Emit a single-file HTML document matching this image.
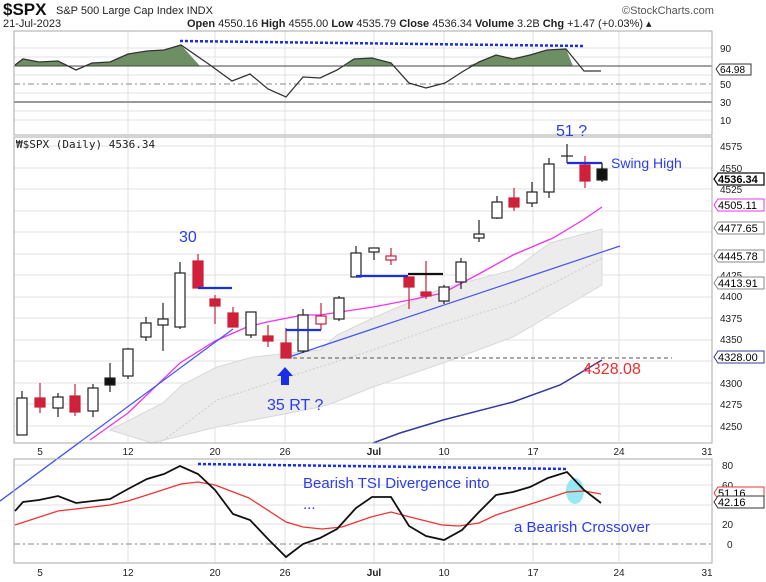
<!DOCTYPE html>
<html><head><meta charset="utf-8"><style>
html,body{margin:0;padding:0;background:#fff}
svg{display:block;font-family:"Liberation Sans",sans-serif}
</style></head><body>
<svg width="766" height="582" viewBox="0 0 766 582" xmlns="http://www.w3.org/2000/svg">
<rect width="766" height="582" fill="#fff"/>
<!-- header -->
<text x="3" y="15" font-size="17" font-weight="bold" fill="#111">$SPX</text>
<text x="56" y="14" font-size="11" fill="#222">S&amp;P 500 Large Cap Index INDX</text>
<text x="3" y="27" font-size="11" fill="#222">21-Jul-2023</text>
<text x="187" y="27" font-size="11" fill="#222"><tspan font-weight="bold">Open</tspan> 4550.16 <tspan font-weight="bold">High</tspan> 4555.00 <tspan font-weight="bold">Low</tspan> 4535.79 <tspan font-weight="bold">Close</tspan> 4536.34 <tspan font-weight="bold">Volume</tspan> 3.2B <tspan font-weight="bold">Chg</tspan> +1.47 (+0.03%) ▴</text>
<text x="622" y="14" font-size="11" fill="#555">©StockCharts.com</text>

<!-- top panel -->
<g stroke="#e2e2e2" stroke-width="1">
<line x1="14" y1="48" x2="712" y2="48"/><line x1="14" y1="57" x2="712" y2="57"/><line x1="14" y1="75" x2="712" y2="75"/><line x1="14" y1="93" x2="712" y2="93"/><line x1="14" y1="111" x2="712" y2="111"/><line x1="14" y1="120" x2="712" y2="120"/>
<line x1="128" y1="31" x2="128" y2="135"/><line x1="215" y1="31" x2="215" y2="135"/><line x1="285" y1="31" x2="285" y2="135"/><line x1="374" y1="31" x2="374" y2="135"/><line x1="444" y1="31" x2="444" y2="135"/><line x1="533" y1="31" x2="533" y2="135"/><line x1="619" y1="31" x2="619" y2="135"/>
</g>
<polygon fill="#6e8f64" stroke="none" points="15,66 15,65 23,59 39,62 58,61 70,66 83,66 92,63 110,62 128,54 147,51 164,50 181,45 200,66"/>
<polygon fill="#6e8f64" stroke="none" points="345,66 354,59 372,58 391,63 394,66"/>
<polygon fill="#6e8f64" stroke="none" points="467,66 479,62 496,55 513,59 530,55 547,50 566,49 573,66"/>
<line x1="14" y1="66" x2="712" y2="66" stroke="#444" stroke-width="1"/>
<line x1="14" y1="84" x2="712" y2="84" stroke="#888" stroke-dasharray="6,3,2,3"/>
<line x1="14" y1="102" x2="712" y2="102" stroke="#999" stroke-width="2"/>
<polyline fill="none" stroke="#333" stroke-width="1.3" points="15,65 23,59 39,62 58,61 76,70 92,63 110,62 128,54 147,51 164,50 181,45 210,65 232,81 250,74 268,89 286,97 303,77 320,78 337,70 354,59 372,58 391,63 409,83 426,88 445,83 462,72 479,62 496,55 513,59 530,55 547,50 566,49 584,71 601,71"/>
<line x1="180" y1="41" x2="584" y2="46" stroke="#1a2ee8" stroke-width="2.5" stroke-dasharray="3,2"/>
<rect x="14" y="31" width="698" height="104" fill="none" stroke="#aaa"/>
<g font-size="10" fill="#222"><text x="720" y="52">90</text><text x="720" y="88">50</text><text x="720" y="106">30</text><text x="720" y="124">10</text></g>
<path d="M716,69 l4,-5 h31 v11 h-31z" fill="#fff" stroke="#333"/><text x="720" y="73" font-size="10">64.98</text>

<!-- main panel grid -->
<g stroke="#e2e2e2">
<line x1="14" y1="146" x2="712" y2="146"/><line x1="14" y1="168" x2="712" y2="168"/><line x1="14" y1="189" x2="712" y2="189"/><line x1="14" y1="211" x2="712" y2="211"/><line x1="14" y1="232" x2="712" y2="232"/><line x1="14" y1="254" x2="712" y2="254"/><line x1="14" y1="275" x2="712" y2="275"/><line x1="14" y1="297" x2="712" y2="297"/><line x1="14" y1="318" x2="712" y2="318"/><line x1="14" y1="340" x2="712" y2="340"/><line x1="14" y1="361" x2="712" y2="361"/><line x1="14" y1="383" x2="712" y2="383"/><line x1="14" y1="404" x2="712" y2="404"/><line x1="14" y1="426" x2="712" y2="426"/>
<line x1="128" y1="137" x2="128" y2="443"/><line x1="215" y1="137" x2="215" y2="443"/><line x1="285" y1="137" x2="285" y2="443"/><line x1="374" y1="137" x2="374" y2="443"/><line x1="444" y1="137" x2="444" y2="443"/><line x1="533" y1="137" x2="533" y2="443"/><line x1="619" y1="137" x2="619" y2="443"/>
</g>
<text x="16" y="148" font-size="11" fill="#222" font-family="'DejaVu Sans Mono',monospace">₩$SPX (Daily) 4536.34</text>
<!-- band -->
<polygon fill="#ececec" stroke="#d8d8d8" points="110,430 163,403 182,385 217,367 253,357 320,350 337,335 373,318 443,288 513,270 550,243 602,229 602,285 513,337 443,363 373,387 333,403 320,407 217,427 152,443"/>
<polyline fill="none" stroke="#ccc" stroke-dasharray="2,2" points="160,443 217,400 285,378 373,350 443,325 513,303 560,280 602,258"/>
<!-- MAs -->
<polyline fill="none" stroke="#ee33ee" stroke-width="1.3" points="90,440 128,413 180,363 215,341 247,327 267,322 303,315 320,315 373,307 410,300 443,293 477,275 513,255 553,238 583,220 602,207"/>
<polyline fill="none" stroke="#333a99" stroke-width="1.5" points="373,443 400,433 443,420 513,402 560,385 602,360"/>
<line x1="0" y1="501" x2="233" y2="329" stroke="#4455ee" stroke-width="1.2"/>
<line x1="286" y1="358" x2="620" y2="246" stroke="#4455ee" stroke-width="1.2"/>
<line x1="286" y1="358" x2="672" y2="358" stroke="#555" stroke-dasharray="4,3"/>
<!-- candles -->
<g stroke="#222" stroke-width="1.2">
<line x1="22" y1="391" x2="22" y2="435"/><rect x="17" y="398" width="10" height="37" fill="#fff"/>
<line x1="58" y1="393" x2="58" y2="417"/><rect x="53" y="397" width="10" height="11" fill="#fff"/>
<line x1="93" y1="384" x2="93" y2="417"/><rect x="88" y="388" width="10" height="23" fill="#fff"/>
<line x1="110" y1="363" x2="110" y2="392"/><rect x="105" y="378" width="10" height="7" fill="#111"/>
<line x1="128" y1="348" x2="128" y2="379"/><rect x="123" y="349" width="10" height="27" fill="#fff"/>
<line x1="146" y1="317" x2="146" y2="341"/><rect x="141" y="323" width="10" height="14" fill="#fff"/>
<line x1="163" y1="303" x2="163" y2="351"/><rect x="158" y="319" width="10" height="6" fill="#fff"/>
<line x1="180" y1="262" x2="180" y2="329"/><rect x="175" y="273" width="10" height="54" fill="#fff"/>
<line x1="251" y1="312" x2="251" y2="338"/><rect x="246" y="312" width="10" height="23" fill="#fff"/>
<line x1="303" y1="309" x2="303" y2="353"/><rect x="298" y="315" width="10" height="36" fill="#fff"/>
<line x1="339" y1="296" x2="339" y2="321"/><rect x="334" y="298" width="10" height="21" fill="#fff"/>
<line x1="356" y1="246" x2="356" y2="277"/><rect x="351" y="253" width="10" height="24" fill="#fff"/>
<line x1="374" y1="248" x2="374" y2="260"/><rect x="369" y="248" width="10" height="4" fill="#fff"/>
<line x1="444" y1="285" x2="444" y2="304"/><rect x="439" y="287" width="10" height="14" fill="#fff"/>
<line x1="461" y1="258" x2="461" y2="289"/><rect x="456" y="262" width="10" height="20" fill="#fff"/>
<line x1="479" y1="220" x2="479" y2="242"/><rect x="474" y="234" width="10" height="4" fill="#fff"/>
<line x1="497" y1="196" x2="497" y2="219"/><rect x="492" y="202" width="10" height="16" fill="#fff"/>
<line x1="532" y1="182" x2="532" y2="207"/><rect x="527" y="192" width="10" height="11" fill="#fff"/>
<line x1="549" y1="158" x2="549" y2="198"/><rect x="544" y="164" width="10" height="28" fill="#fff"/>
<line x1="567" y1="144" x2="567" y2="163"/><line x1="561" y1="156" x2="573" y2="156"/>
<line x1="602" y1="166" x2="602" y2="182"/><rect x="597" y="169" width="10" height="11" fill="#111"/>
</g>
<g stroke="#c8203a" stroke-width="1.2" fill="#d0203a">
<line x1="40" y1="383" x2="40" y2="413"/><rect x="35" y="398" width="10" height="9"/>
<line x1="75" y1="384" x2="75" y2="416"/><rect x="70" y="396" width="10" height="16"/>
<line x1="198" y1="254" x2="198" y2="288"/><rect x="193" y="261" width="10" height="27"/>
<line x1="215" y1="295" x2="215" y2="324"/><rect x="210" y="299" width="10" height="7"/>
<line x1="233" y1="307" x2="233" y2="327"/><rect x="228" y="313" width="10" height="14"/>
<line x1="268" y1="325" x2="268" y2="347"/><rect x="263" y="336" width="10" height="5"/>
<line x1="286" y1="328" x2="286" y2="358"/><rect x="281" y="343" width="10" height="15"/>
<line x1="321" y1="303" x2="321" y2="330"/><rect x="316" y="316" width="10" height="8" fill="#fff"/>
<line x1="391" y1="248" x2="391" y2="265"/><rect x="386" y="256" width="10" height="4" fill="#fff"/>
<line x1="409" y1="277" x2="409" y2="309"/><rect x="404" y="277" width="10" height="10"/>
<line x1="426" y1="261" x2="426" y2="299"/><rect x="421" y="292" width="10" height="4"/>
<line x1="514" y1="188" x2="514" y2="211"/><rect x="509" y="198" width="10" height="9"/>
<line x1="585" y1="156" x2="585" y2="188"/><rect x="580" y="165" width="10" height="16"/>
</g>
<!-- annotation lines -->
<g stroke="#1a2ee8" stroke-width="2.2">
<line x1="198" y1="288" x2="232" y2="288"/><line x1="286" y1="330" x2="321" y2="330"/><line x1="356" y1="276" x2="408" y2="276"/>
<line x1="567" y1="163" x2="602" y2="163"/></g>
<line x1="408" y1="274" x2="443" y2="274" stroke="#111" stroke-width="2.2"/>
<line x1="602" y1="163" x2="602" y2="170" stroke="#111" stroke-width="1.2"/>
<path d="M285,367 l-8,9 h4 v9 h8 v-9 h4z" fill="#1a2ee8"/>
<g fill="#2a3cf0" font-size="16"><text x="179" y="242">30</text><text x="267" y="410">35 RT  ?</text><text x="556" y="136">51 ?</text><text x="611" y="168" font-size="14">Swing High</text></g>
<text x="583" y="374" font-size="16" fill="#ee2b2b">4328.08</text>
<rect x="14" y="137" width="698" height="306" fill="none" stroke="#aaa"/>
<!-- right axis main -->
<g font-size="10" fill="#222"><text x="720" y="150">4575</text><text x="720" y="172">4550</text><text x="720" y="193">4525</text><text x="720" y="279">4425</text><text x="720" y="300">4400</text><text x="720" y="322">4375</text><text x="720" y="343">4350</text><text x="720" y="387">4300</text><text x="720" y="408">4275</text><text x="720" y="430">4250</text></g>
<g font-size="11">
<path d="M714,179 l4,-6 h46 v12 h-46z" fill="#fff" stroke="#111" stroke-width="1.3"/><text x="718" y="183" font-weight="bold">4536.34</text>
<path d="M714,205 l4,-6 h46 v12 h-46z" fill="#fff" stroke="#ee33ee"/><text x="718" y="209">4505.11</text>
<path d="M714,228 l4,-6 h46 v12 h-46z" fill="#fff" stroke="#888"/><text x="718" y="232">4477.65</text>
<path d="M714,256 l4,-6 h46 v12 h-46z" fill="#fff" stroke="#888"/><text x="718" y="260">4445.78</text>
<path d="M714,283 l4,-6 h46 v12 h-46z" fill="#fff" stroke="#888"/><text x="718" y="287">4413.91</text>
<path d="M714,357 l4,-6 h46 v12 h-46z" fill="#fff" stroke="#333a99"/><text x="718" y="361">4328.00</text>
</g>
<!-- date axis -->
<g font-size="10" fill="#222" text-anchor="middle"><text x="40" y="455">5</text><text x="128" y="455">12</text><text x="215" y="455">20</text><text x="285" y="455">26</text><text x="374" y="455" font-weight="bold">Jul</text><text x="444" y="455">10</text><text x="533" y="455">17</text><text x="619" y="455">24</text><text x="707" y="455">31</text></g>
<!-- bottom panel -->
<g stroke="#e2e2e2">
<line x1="14" y1="465" x2="712" y2="465"/><line x1="14" y1="485" x2="712" y2="485"/><line x1="14" y1="505" x2="712" y2="505"/><line x1="14" y1="524" x2="712" y2="524"/>
<line x1="128" y1="459" x2="128" y2="563"/><line x1="215" y1="459" x2="215" y2="563"/><line x1="285" y1="459" x2="285" y2="563"/><line x1="374" y1="459" x2="374" y2="563"/><line x1="444" y1="459" x2="444" y2="563"/><line x1="533" y1="459" x2="533" y2="563"/><line x1="619" y1="459" x2="619" y2="563"/>
</g>
<line x1="14" y1="544" x2="712" y2="544" stroke="#888" stroke-dasharray="6,3,2,3"/>
<ellipse cx="575" cy="491" rx="9" ry="13" fill="#7fe3ef" opacity="0.8"/>
<polyline fill="none" stroke="#ee3333" stroke-width="1.3" points="15,525 58,511 110,505 128,501 147,495 181,484 198,482 215,485 249,498 286,522 303,527 322,529 342,527 371,517 391,512 410,517 442,525 459,526 479,523 496,515 537,502 567,492 584,491 601,494"/>
<polyline fill="none" stroke="#111" stroke-width="1.8" points="15,511 23,502 39,500 58,496 76,503 110,499 128,489 147,479 164,474 180,466 198,474 215,490 233,514 250,520 268,539 286,557 303,544 320,538 337,529 356,508 372,497 391,497 409,526 426,536 444,540 462,530 479,512 496,495 513,492 530,487 548,478 567,472 584,490 601,503"/>
<line x1="198" y1="464" x2="567" y2="469" stroke="#1a2ee8" stroke-width="2.5" stroke-dasharray="3,2"/>
<line x1="0" y1="501" x2="80" y2="442" stroke="#4455ee" stroke-width="1.2"/>
<g fill="#2a3cf0" font-size="15"><text x="303" y="488">Bearish TSI Divergence into</text><text x="303" y="509">...</text><text x="514" y="532">a Bearish Crossover</text></g>
<rect x="14" y="459" width="698" height="104" fill="none" stroke="#aaa"/>
<g font-size="10" fill="#222"><text x="722" y="469">80</text><text x="722" y="489">60</text><text x="722" y="528">20</text><text x="727" y="548">0</text></g>
<g font-size="11"><path d="M714,493 l4,-6 h46 v12 h-46z" fill="#fff" stroke="#ee3333"/><text x="718" y="497">51.16</text>
<path d="M714,502 l4,-6 h46 v12 h-46z" fill="#fff" stroke="#333"/><text x="718" y="506">42.16</text></g>
<g font-size="10" fill="#222" text-anchor="middle"><text x="40" y="576">5</text><text x="128" y="576">12</text><text x="215" y="576">20</text><text x="285" y="576">26</text><text x="374" y="576" font-weight="bold">Jul</text><text x="444" y="576">10</text><text x="533" y="576">17</text><text x="619" y="576">24</text><text x="707" y="576">31</text></g>
</svg>
</body></html>
